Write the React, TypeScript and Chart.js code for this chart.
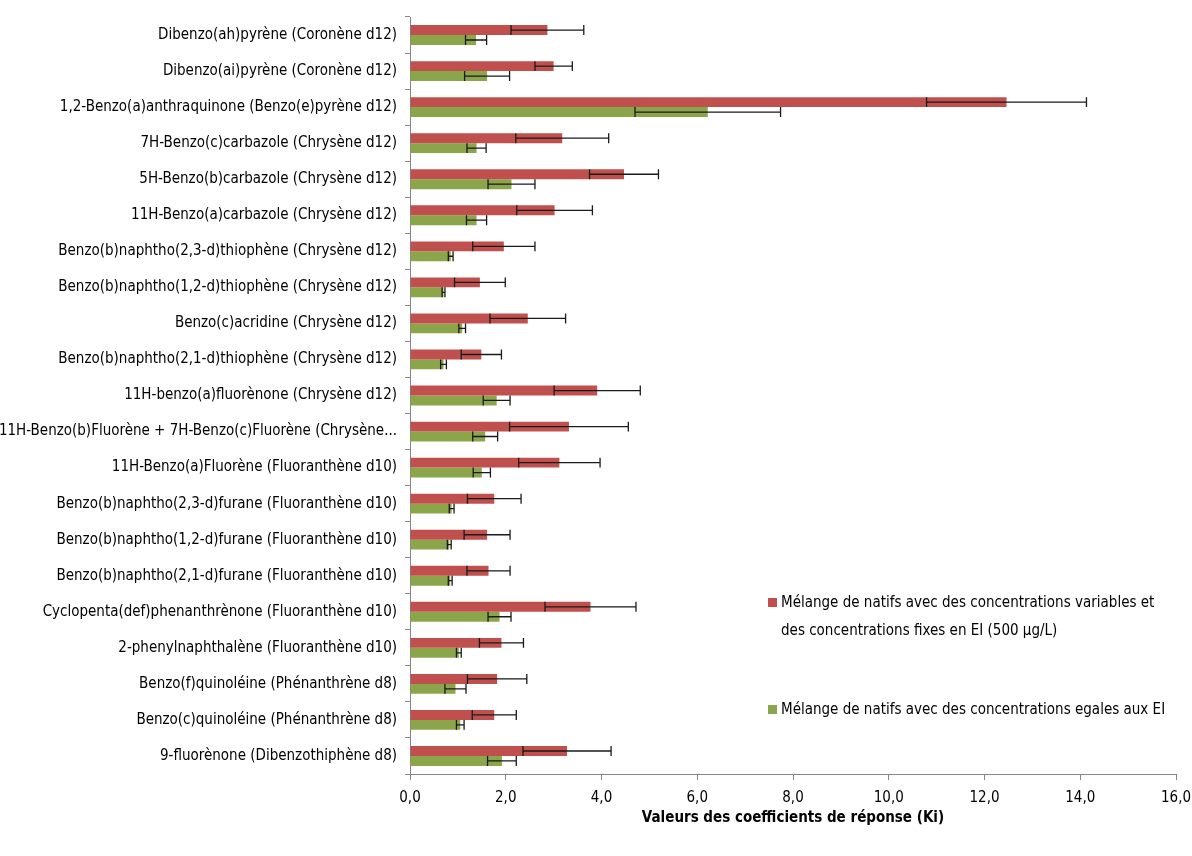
import React, { useEffect, useRef } from "react";
import { Chart, registerables } from "chart.js";

Chart.register(...registerables);

const categories = [
  "Dibenzo(ah)pyrène (Coronène d12)",
  "Dibenzo(ai)pyrène (Coronène d12)",
  "1,2-Benzo(a)anthraquinone (Benzo(e)pyrène d12)",
  "7H-Benzo(c)carbazole (Chrysène d12)",
  "5H-Benzo(b)carbazole (Chrysène d12)",
  "11H-Benzo(a)carbazole (Chrysène d12)",
  "Benzo(b)naphtho(2,3-d)thiophène (Chrysène d12)",
  "Benzo(b)naphtho(1,2-d)thiophène (Chrysène d12)",
  "Benzo(c)acridine (Chrysène d12)",
  "Benzo(b)naphtho(2,1-d)thiophène (Chrysène d12)",
  "11H-benzo(a)fluorènone (Chrysène d12)",
  "11H-Benzo(b)Fluorène + 7H-Benzo(c)Fluorène (Chrysène...",
  "11H-Benzo(a)Fluorène (Fluoranthène d10)",
  "Benzo(b)naphtho(2,3-d)furane (Fluoranthène d10)",
  "Benzo(b)naphtho(1,2-d)furane (Fluoranthène d10)",
  "Benzo(b)naphtho(2,1-d)furane (Fluoranthène d10)",
  "Cyclopenta(def)phenanthrènone (Fluoranthène d10)",
  "2-phenylnaphthalène (Fluoranthène d10)",
  "Benzo(f)quinoléine (Phénanthrène d8)",
  "Benzo(c)quinoléine (Phénanthrène d8)",
  "9-fluorènone (Dibenzothiphène d8)",
];

const seriesVariableLabel =
  "Mélange de natifs avec des concentrations variables et des concentrations fixes en EI (500 µg/L)";
const seriesEqualLabel = "Mélange de natifs avec des concentrations egales aux EI";

const variableValues = [2.87, 3.0, 12.46, 3.18, 4.47, 3.02, 1.96, 1.46, 2.46, 1.49, 3.91, 3.32, 3.12, 1.76, 1.61, 1.64, 3.77, 1.91, 1.82, 1.76, 3.28];
const variableErrors = [0.76, 0.39, 1.67, 0.97, 0.72, 0.79, 0.65, 0.53, 0.79, 0.42, 0.9, 1.24, 0.85, 0.56, 0.48, 0.45, 0.95, 0.46, 0.62, 0.46, 0.92];
const equalValues = [1.38, 1.61, 6.22, 1.39, 2.12, 1.39, 0.85, 0.7, 1.09, 0.7, 1.81, 1.57, 1.5, 0.87, 0.82, 0.84, 1.87, 1.02, 0.95, 1.05, 1.92];
const equalErrors = [0.22, 0.47, 1.52, 0.2, 0.49, 0.21, 0.05, 0.03, 0.07, 0.06, 0.28, 0.26, 0.18, 0.05, 0.04, 0.04, 0.24, 0.05, 0.22, 0.08, 0.3];

const xTicks = [0, 2, 4, 6, 8, 10, 12, 14, 16];
const xTitle = "Valeurs des coefficients de réponse (Ki)";

const RED = "#C0504D";
const GREEN = "#8BA54B";
const FONT = "'Liberation Sans Narrow', 'DejaVu Sans Condensed', 'Open Sans', sans-serif";

const errorLists = [variableErrors, equalErrors];

const errorBarPlugin = {
  id: "errorBars",
  afterDatasetsDraw(chart: any) {
    const ctx = chart.ctx;
    const xScale = chart.scales.x;
    ctx.save();
    ctx.strokeStyle = "#1a1a1a";
    ctx.lineWidth = 1.3;
    chart.data.datasets.forEach((ds: any, di: number) => {
      const meta = chart.getDatasetMeta(di);
      const errs = errorLists[di];
      meta.data.forEach((bar: any, i: number) => {
        const v = ds.data[i];
        const e = errs[i];
        const x1 = xScale.getPixelForValue(v - e);
        const x2 = xScale.getPixelForValue(v + e);
        const y = bar.y;
        const h = bar.height / 2;
        ctx.beginPath();
        ctx.moveTo(x1, y);
        ctx.lineTo(x2, y);
        ctx.moveTo(x1, y - h);
        ctx.lineTo(x1, y + h);
        ctx.moveTo(x2, y - h);
        ctx.lineTo(x2, y + h);
        ctx.stroke();
      });
    });
    ctx.restore();
  },
};

export default function App() {
  const canvasRef = useRef<HTMLCanvasElement | null>(null);

  useEffect(() => {
    if (!canvasRef.current) return;
    const chart = new Chart(canvasRef.current, {
      type: "bar",
      data: {
        labels: categories,
        datasets: [
          {
            label: seriesVariableLabel,
            data: variableValues,
            backgroundColor: RED,
            categoryPercentage: 0.55,
            barPercentage: 1.0,
          },
          {
            label: seriesEqualLabel,
            data: equalValues,
            backgroundColor: GREEN,
            categoryPercentage: 0.55,
            barPercentage: 1.0,
          },
        ],
      },
      options: {
        indexAxis: "y",
        responsive: false,
        animation: false,
        layout: { padding: { top: 17, right: 16, bottom: 29, left: 0 } },
        plugins: {
          legend: { display: false },
          tooltip: { enabled: false },
        },
        scales: {
          x: {
            min: 0,
            max: 16,
            afterBuildTicks: (scale: any) => {
              scale.ticks = xTicks.map((v) => ({ value: v }));
            },
            afterFit: (scale: any) => {
              scale.height = 53;
              scale.paddingRight = 0;
              scale.paddingLeft = 0;
            },
            grid: {
              drawOnChartArea: false,
              drawTicks: true,
              tickLength: 6,
              color: "#868686",
            },
            border: { color: "#868686", width: 1 },
            ticks: {
              color: "#000",
              padding: 9,
              font: { family: FONT, size: 15 },
              callback: (v: any) => Number(v).toFixed(1).replace(".", ","),
            },
            title: {
              display: true,
              text: xTitle,
              color: "#000",
              font: { family: FONT, size: 15, weight: "bold" },
              padding: { top: 4, bottom: 0 },
            },
          },
          y: {
            afterFit: (scale: any) => {
              scale.width = 410;
            },
            grid: {
              drawOnChartArea: false,
              drawTicks: true,
              tickLength: 5,
              color: "#868686",
              offset: true,
            },
            border: { color: "#868686", width: 1 },
            ticks: {
              color: "#000",
              padding: 8,
              autoSkip: false,
              font: { family: FONT, size: 15 },
            },
          },
        },
      },
      plugins: [errorBarPlugin],
    } as any);
    return () => chart.destroy();
  }, []);

  const legendText: React.CSSProperties = {
    fontFamily: FONT,
    fontSize: 15,
    color: "#000",
    lineHeight: "28px",
    whiteSpace: "nowrap",
  };
  const swatch = (c: string): React.CSSProperties => ({
    position: "absolute",
    left: 0,
    top: 10,
    width: 9,
    height: 9,
    background: c,
  });

  return (
    <div style={{ position: "fixed", left: 0, top: 0, width: 1192, height: 856, background: "#fff" }}>
      <canvas ref={canvasRef} width={1192} height={856} style={{ display: "block" }} />
      <div style={{ position: "absolute", left: 768, top: 588, width: 424 }}>
        <div style={{ position: "relative", paddingLeft: 13 }}>
          <span style={swatch(RED)} />
          <div style={legendText}>
            Mélange de natifs avec des concentrations variables et
            <br />
            des concentrations fixes en EI (500 µg/L)
          </div>
        </div>
      </div>
      <div style={{ position: "absolute", left: 768, top: 695, width: 424 }}>
        <div style={{ position: "relative", paddingLeft: 13 }}>
          <span style={swatch(GREEN)} />
          <div style={legendText}>{seriesEqualLabel}</div>
        </div>
      </div>
    </div>
  );
}
